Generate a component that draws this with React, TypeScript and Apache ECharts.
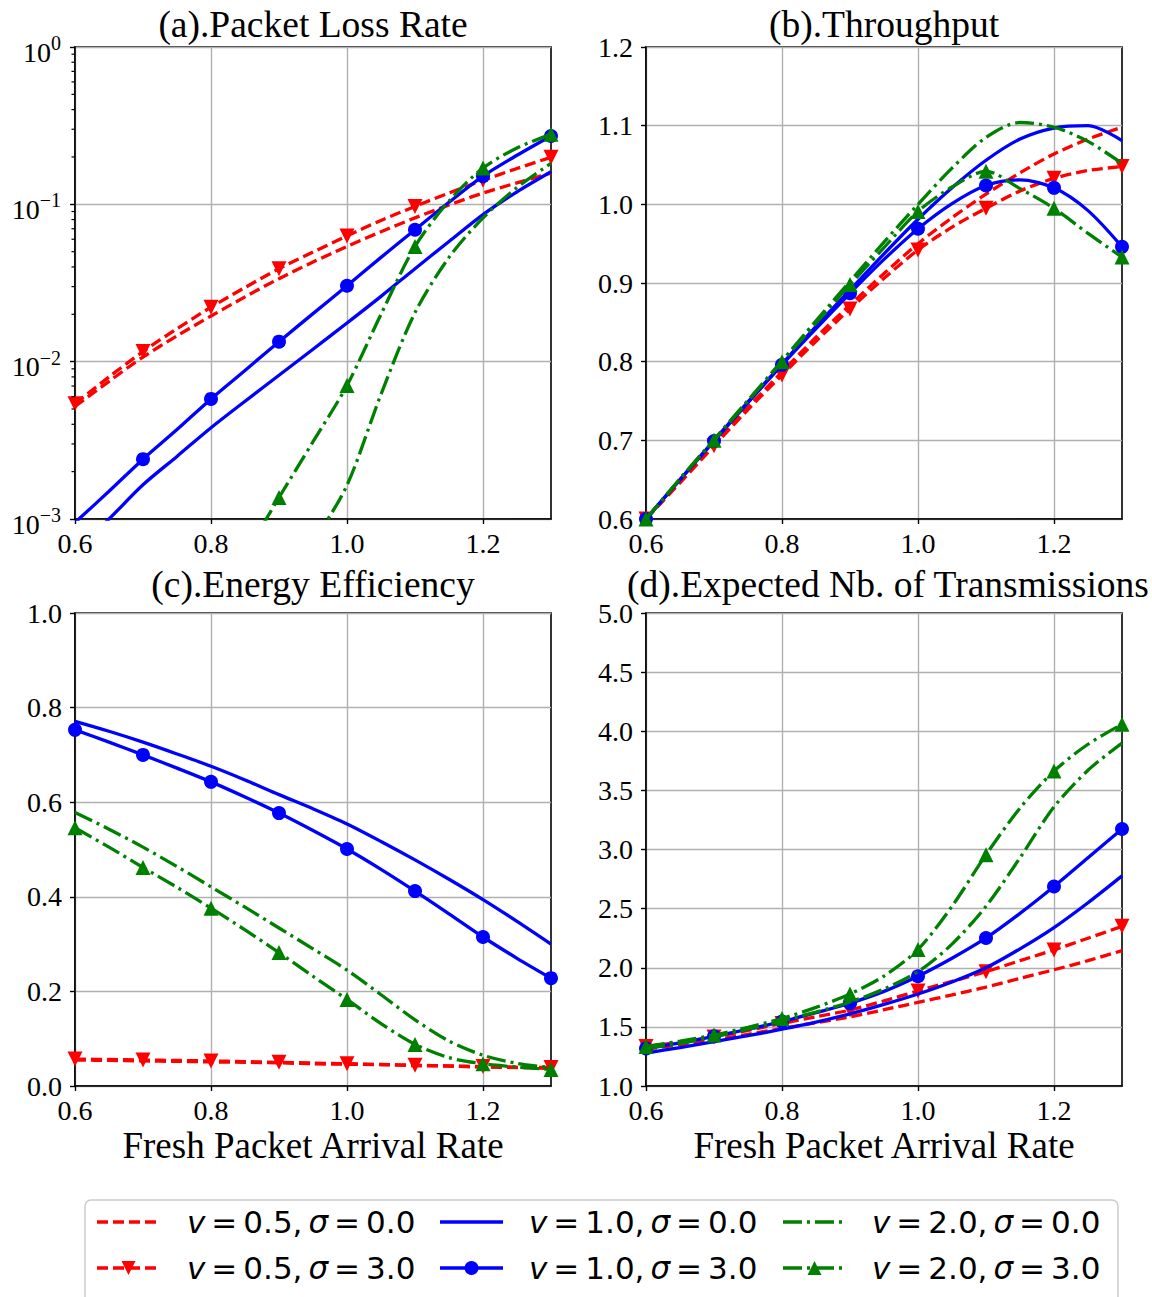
import React, { useEffect, useRef } from 'react';
import * as echarts from 'echarts';

// ---------- data ----------
const xValues = [0.6, 0.65, 0.7, 0.75, 0.8, 0.85, 0.9, 0.95, 1.0, 1.05, 1.1, 1.15, 1.2, 1.25, 1.3];
const xTickValues = [0.6, 0.8, 1.0, 1.2];
const logTickExponents = [-3, -2, -1, 0];

const seriesNames = ['v=0.5, σ=0.0', 'v=0.5, σ=3.0', 'v=1.0, σ=0.0', 'v=1.0, σ=3.0', 'v=2.0, σ=0.0', 'v=2.0, σ=3.0'];
const panelTitles = ['(a).Packet Loss Rate', '(b).Throughput', '(c).Energy Efficiency', '(d).Expected Nb. of Transmissions'];
const xAxisName = 'Fresh Packet Arrival Rate';

// (a) Packet loss rate
const lossV05S0 = [0.0052, 0.0075, 0.0107, 0.0146, 0.0195, 0.0258, 0.0337, 0.043, 0.054, 0.067, 0.082, 0.099, 0.118, 0.137, 0.158];
const lossV05S3 = [0.0054, 0.008, 0.0116, 0.0162, 0.0222, 0.0296, 0.039, 0.0497, 0.063, 0.079, 0.097, 0.118, 0.142, 0.169, 0.199];
const lossV10S0 = [0.00062, 0.001, 0.00165, 0.0025, 0.0038, 0.0056, 0.0082, 0.012, 0.0176, 0.026, 0.039, 0.058, 0.086, 0.12, 0.161];
const lossV10S3 = [0.00095, 0.0015, 0.0024, 0.0037, 0.0058, 0.0088, 0.0134, 0.0202, 0.0304, 0.046, 0.069, 0.103, 0.151, 0.205, 0.272];
const lossV20S0 = [0.000001, 0.000003, 0.000008, 0.00002, 0.00005, 0.00012, 0.0003, 0.0007, 0.00164, 0.0062, 0.0205, 0.046, 0.082, 0.128, 0.182];
const lossV20S3 = [0.00002, 0.00004, 0.00008, 0.00015, 0.0003, 0.0006, 0.00137, 0.0031, 0.00706, 0.02, 0.054, 0.105, 0.17, 0.228, 0.279];

// (b) Throughput
const thrV05S0 = [0.6, 0.648, 0.695, 0.742, 0.787, 0.831, 0.872, 0.912, 0.95, 0.983, 1.013, 1.04, 1.064, 1.083, 1.098];
const thrV05S3 = [0.6, 0.646, 0.693, 0.739, 0.783, 0.826, 0.867, 0.906, 0.942, 0.971, 0.995, 1.017, 1.033, 1.043, 1.048];
const thrV10S0 = [0.6, 0.65, 0.7, 0.749, 0.797, 0.845, 0.891, 0.937, 0.981, 1.021, 1.056, 1.083, 1.097, 1.1, 1.081];
const thrV10S3 = [0.6, 0.65, 0.699, 0.748, 0.796, 0.842, 0.887, 0.93, 0.969, 1.001, 1.024, 1.031, 1.021, 0.992, 0.946];
const thrV20S0 = [0.6, 0.651, 0.701, 0.751, 0.801, 0.852, 0.902, 0.952, 1.0, 1.046, 1.085, 1.104, 1.098, 1.08, 1.052];
const thrV20S3 = [0.6, 0.651, 0.7, 0.75, 0.8, 0.849, 0.898, 0.945, 0.991, 1.022, 1.042, 1.02, 0.995, 0.963, 0.933];

// (c) Energy efficiency
const effV05S0 = [0.055, 0.054, 0.053, 0.052, 0.051, 0.05, 0.049, 0.047, 0.046, 0.045, 0.043, 0.042, 0.04, 0.039, 0.037];
const effV05S3 = [0.057, 0.056, 0.055, 0.054, 0.053, 0.0515, 0.05, 0.0485, 0.047, 0.0455, 0.044, 0.0425, 0.041, 0.04, 0.039];
const effV10S0 = [0.771, 0.75, 0.727, 0.702, 0.676, 0.647, 0.616, 0.586, 0.554, 0.517, 0.478, 0.437, 0.394, 0.348, 0.3];
const effV10S3 = [0.753, 0.727, 0.7, 0.672, 0.643, 0.611, 0.577, 0.54, 0.501, 0.458, 0.412, 0.364, 0.315, 0.27, 0.228];
const effV20S0 = [0.578, 0.543, 0.505, 0.464, 0.421, 0.378, 0.334, 0.29, 0.245, 0.193, 0.14, 0.095, 0.065, 0.048, 0.039];
const effV20S3 = [0.546, 0.505, 0.462, 0.42, 0.376, 0.33, 0.282, 0.232, 0.183, 0.132, 0.088, 0.06, 0.047, 0.04, 0.035];

// (d) Expected number of transmissions
const ntxV05S0 = [1.311, 1.35, 1.389, 1.437, 1.487, 1.535, 1.584, 1.645, 1.707, 1.77, 1.837, 1.91, 1.983, 2.06, 2.145];
const ntxV05S3 = [1.334, 1.37, 1.415, 1.47, 1.529, 1.585, 1.642, 1.72, 1.804, 1.885, 1.967, 2.06, 2.151, 2.25, 2.35];
const ntxV10S0 = [1.279, 1.325, 1.376, 1.425, 1.48, 1.54, 1.61, 1.69, 1.778, 1.88, 2.0, 2.16, 2.34, 2.55, 2.777];
const ntxV10S3 = [1.318, 1.365, 1.42, 1.48, 1.545, 1.62, 1.7, 1.8, 1.928, 2.08, 2.252, 2.46, 2.687, 2.93, 3.173];
const ntxV20S0 = [1.318, 1.36, 1.415, 1.48, 1.55, 1.625, 1.71, 1.82, 1.967, 2.2, 2.52, 2.93, 3.36, 3.67, 3.9];
const ntxV20S3 = [1.334, 1.38, 1.431, 1.497, 1.571, 1.665, 1.778, 1.93, 2.155, 2.52, 2.956, 3.35, 3.663, 3.89, 4.059];

const panelData = [
  [lossV05S0, lossV05S3, lossV10S0, lossV10S3, lossV20S0, lossV20S3],
  [thrV05S0, thrV05S3, thrV10S0, thrV10S3, thrV20S0, thrV20S3],
  [effV05S0, effV05S3, effV10S0, effV10S3, effV20S0, effV20S3],
  [ntxV05S0, ntxV05S3, ntxV10S0, ntxV10S3, ntxV20S0, ntxV20S3],
];

// ---------- styles ----------
const RED = '#ff0000';
const BLUE = '#0000ff';
const GREEN = '#008000';
const DASH = [11, 5];
const DASHDOT = [19, 5, 3, 5];
const LINE_W = 3.3;
const seriesStyles: any[] = [
  { color: RED, dash: DASH, symbol: 'none', rotate: 0, size: 0 },
  { color: RED, dash: DASH, symbol: 'triangle', rotate: 180, size: 15 },
  { color: BLUE, dash: 'solid', symbol: 'none', rotate: 0, size: 0 },
  { color: BLUE, dash: 'solid', symbol: 'circle', rotate: 0, size: 14 },
  { color: GREEN, dash: DASHDOT, symbol: 'none', rotate: 0, size: 0 },
  { color: GREEN, dash: DASHDOT, symbol: 'triangle', rotate: 0, size: 15 },
];

const SERIF = "'Liberation Serif', 'Times New Roman', serif";
const SANS = "'DejaVu Sans', sans-serif";
const TICK_FONT = 28;
const grids = [
  { left: 75, top: 47, width: 476, height: 472 },
  { left: 646, top: 47, width: 476, height: 472 },
  { left: 75, top: 613, width: 476, height: 473 },
  { left: 646, top: 613, width: 476, height: 473 },
];
const yRanges: any[] = [
  { type: 'log', min: 0.001, max: 1 },
  { type: 'value', min: 0.6, max: 1.2, interval: 0.1 },
  { type: 'value', min: 0, max: 1, interval: 0.2 },
  { type: 'value', min: 1, max: 5, interval: 0.5 },
];

function buildOption(): any {
  const axisLine = { show: true, lineStyle: { color: '#000', width: 1.6 } };
  const axisTick = { show: true, inside: false, length: 5, lineStyle: { color: '#000', width: 1.4 } };
  const splitLine = { show: true, lineStyle: { color: '#b0b0b0', width: 1.4 } };

  const xAxis = grids.map((_, g) => ({
    type: 'value',
    gridIndex: g,
    min: 0.6,
    max: 1.3,
    interval: 0.2,
    axisLine,
    axisTick: { ...axisTick, customValues: xTickValues },
    splitLine,
    axisLabel: {
      fontFamily: SERIF,
      fontSize: TICK_FONT,
      color: '#000',
      margin: 10,
      customValues: xTickValues,
      formatter: (v: number) => v.toFixed(1),
    },
    name: g >= 2 ? xAxisName : '',
    nameLocation: 'middle',
    nameGap: 41,
    nameTextStyle: { fontFamily: SERIF, fontSize: 37, color: '#000', lineHeight: 37 },
  }));

  const yAxis = grids.map((_, g) => {
    const r = yRanges[g];
    const base: any = {
      ...r,
      gridIndex: g,
      axisLine,
      axisTick,
      splitLine,
    };
    if (r.type === 'log') {
      base.logBase = 10;
      base.axisLabel = {
        margin: 14,
        fontFamily: SERIF,
        fontSize: TICK_FONT,
        color: '#000',
        formatter: (v: number) => {
          const e = Math.round(Math.log10(v));
          const s = e < 0 ? '\u2212' + Math.abs(e) : String(e);
          return '{b|10}{s|' + s + '}';
        },
        rich: {
          b: { fontFamily: SERIF, fontSize: TICK_FONT, lineHeight: 28, padding: [10, 0, 0, 0], color: '#000' },
          s: { fontFamily: SERIF, fontSize: 20, lineHeight: 20, verticalAlign: 'top', color: '#000' },
        },
      };
    } else {
      base.axisLabel = {
        fontFamily: SERIF,
        fontSize: TICK_FONT,
        lineHeight: 20,
        color: '#000',
        margin: 13,
        formatter: (v: number) => v.toFixed(1),
      };
    }
    return base;
  });

  const series: any[] = [];
  panelData.forEach((panel, g) => {
    panel.forEach((ys, k) => {
      const st = seriesStyles[k];
      series.push({
        type: 'line',
        name: seriesNames[k],
        xAxisIndex: g,
        yAxisIndex: g,
        data: xValues.map((x, i) => [x, ys[i]]),
        smooth: 0.3,
        clip: true,
        showAllSymbol: true,
        showSymbol: st.symbol !== 'none',
        symbol: st.symbol,
        symbolRotate: st.rotate,
        symbolSize: (_v: any, p: any) => (p.dataIndex % 2 === 0 ? st.size : 0),
        itemStyle: { color: st.color },
        lineStyle: { color: st.color, width: LINE_W, type: st.dash, cap: 'butt' },
        emphasis: { disabled: true },
        z: 2 + k,
      });
    });
  });

  const titleTops = [11, 11, 571, 571];
  const titleShift = [0, 0, 0, 4];
  const title = panelTitles.map((t, g) => ({
    text: t,
    left: grids[g].left + grids[g].width / 2 + titleShift[g],
    top: titleTops[g],
    textAlign: 'center',
    padding: 0,
    textStyle: { fontFamily: SERIF, fontSize: 37.5, fontWeight: 'normal', color: '#000', lineHeight: 26 },
  }));

  return {
    animation: false,
    backgroundColor: '#ffffff',
    textStyle: { fontFamily: SERIF, color: '#000' },
    title,
    grid: grids.map((g) => ({ ...g, show: true, borderColor: '#000', borderWidth: 1.6, backgroundColor: 'transparent' })),
    xAxis,
    yAxis,
    series,
  };
}

function legendGraphics(): any[] {
  const els: any[] = [];
  els.push({
    type: 'rect',
    shape: { x: 85, y: 1200, width: 1033, height: 130, r: 6 },
    style: { fill: '#ffffff', stroke: '#cccccc', lineWidth: 1.5 },
    z: 100,
  });
  const colLineX = [97, 440, 783];
  const colTextX = [187, 529, 872];
  const rowY = [1222, 1268];
  const vals = [
    ['0.5', '0.0'], ['0.5', '3.0'],
    ['1.0', '0.0'], ['1.0', '3.0'],
    ['2.0', '0.0'], ['2.0', '3.0'],
  ];
  const rich = {
    i: { fontFamily: SANS, fontStyle: 'italic', fontSize: 31, fill: '#000' },
    e: { fontFamily: SANS, fontSize: 31, padding: [0, 6, 0, 6], fill: '#000' },
    n: { fontFamily: SANS, fontSize: 31, fill: '#000' },
    c: { fontFamily: SANS, fontSize: 31, padding: [0, 6, 0, 0], fill: '#000' },
  };
  for (let k = 0; k < 6; k++) {
    const col = Math.floor(k / 2);
    const row = k % 2;
    const st = seriesStyles[k];
    const y = rowY[row];
    const x1 = colLineX[col];
    els.push({
      type: 'line',
      shape: { x1, y1: y, x2: x1 + 63, y2: y },
      style: { stroke: st.color, lineWidth: LINE_W, lineDash: st.dash === 'solid' ? null : st.dash, lineCap: 'butt' },
      z: 101,
    });
    const cx = x1 + 31.5;
    if (st.symbol === 'circle') {
      els.push({ type: 'circle', shape: { cx, cy: y, r: 7 }, style: { fill: st.color }, z: 102 });
    } else if (st.symbol === 'triangle') {
      const h = 14;
      const w = 14;
      const pts = st.rotate === 180
        ? [[cx - w / 2, y - h / 2], [cx + w / 2, y - h / 2], [cx, y + h / 2]]
        : [[cx - w / 2, y + h / 2], [cx + w / 2, y + h / 2], [cx, y - h / 2]];
      els.push({ type: 'polygon', shape: { points: pts }, style: { fill: st.color }, z: 102 });
    }
    const [vv, sv] = vals[k];
    els.push({
      type: 'text',
      x: colTextX[col],
      y,
      style: {
        text: '{i|v}{e|=}{c|' + vv + ',}{i|σ}{e|=}{n|' + sv + '}',
        rich,
        verticalAlign: 'middle',
        textAlign: 'left',
        fontFamily: SANS,
        fontSize: 31,
        fill: '#000',
      },
      z: 103,
    });
  }
  return els;
}

export default function App() {
  const ref = useRef<HTMLDivElement>(null);
  useEffect(() => {
    document.body.style.margin = '0';
    if (!ref.current) return;
    const chart = echarts.init(ref.current, undefined, { renderer: 'svg' });
    chart.setOption(buildOption());
    // minor ticks of the log axis (panel a)
    const minor: any[] = [];
    for (const e of logTickExponents.slice(0, 3)) {
      for (let m = 2; m <= 9; m++) {
        const v = m * Math.pow(10, e);
        const p = chart.convertToPixel({ xAxisIndex: 0, yAxisIndex: 0 } as any, [0.6, v]) as any;
        if (p && isFinite(p[1])) {
          minor.push({
            type: 'line',
            shape: { x1: p[0] - 3.5, y1: p[1], x2: p[0], y2: p[1] },
            style: { stroke: '#000', lineWidth: 1.2 },
            z: 50,
          });
        }
      }
    }
    chart.setOption({ graphic: { elements: [...legendGraphics(), ...minor] } });
    return () => chart.dispose();
  }, []);
  return <div ref={ref} style={{ width: 1152, height: 1297 }} />;
}
